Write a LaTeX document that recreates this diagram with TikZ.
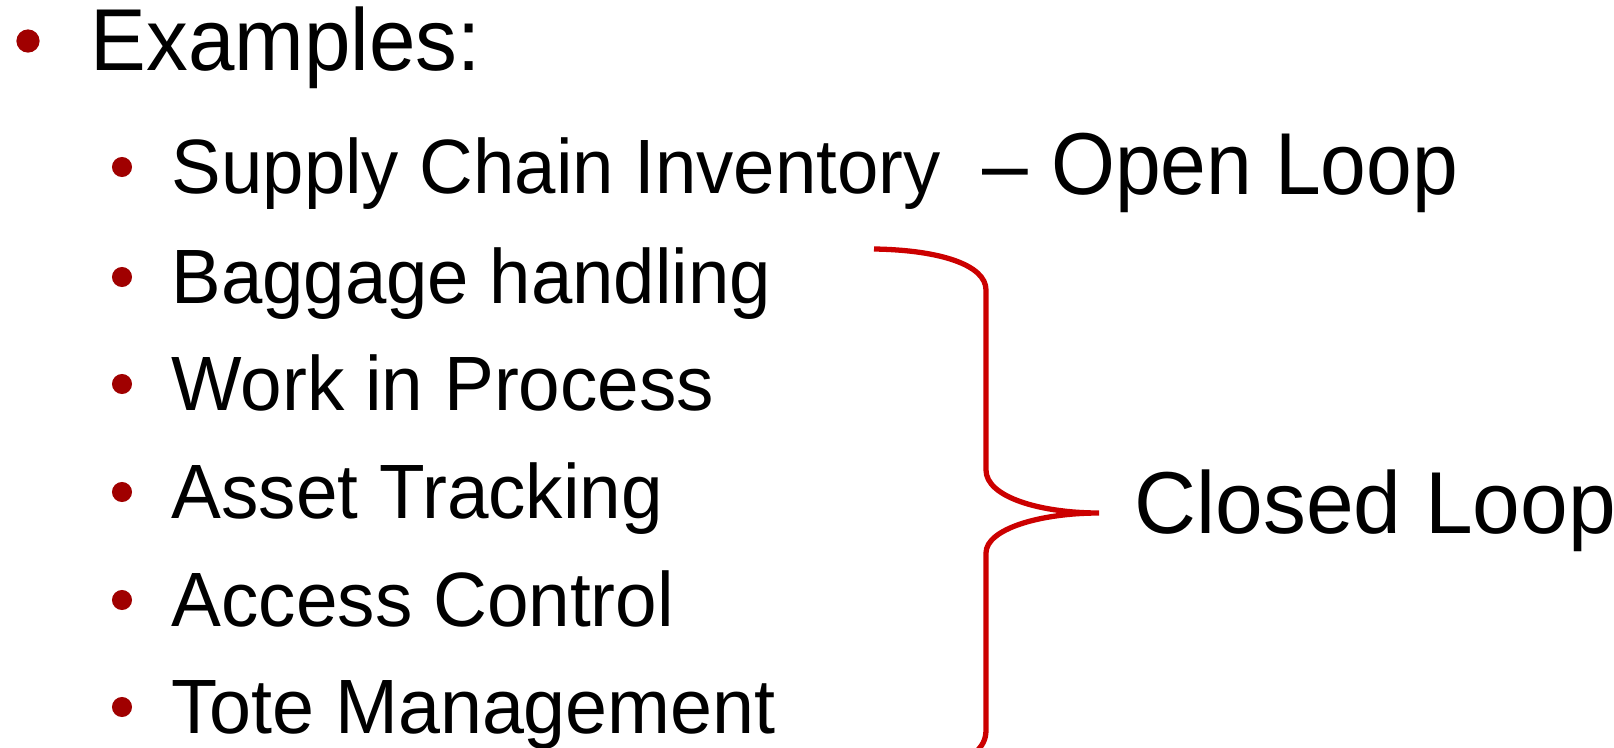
\documentclass[tikz,border=0pt]{standalone}
\usepackage{fontspec}
\setmainfont{Liberation Sans}
\usetikzlibrary{positioning}
\definecolor{bulletred}{HTML}{A00000}
\definecolor{bracered}{HTML}{CC0000}

\begin{document}
\begin{tikzpicture}[x=0.01cm,y=-0.01cm]

  \tikzset{
    bullet/.style={circle,fill=bulletred,inner sep=0pt,minimum size=#1},
    itemtext/.style={anchor=base west,inner sep=0pt,font=\fontsize{21.9pt}{24pt}\selectfont},
    bigtext/.style={anchor=base west,inner sep=0pt,font=\fontsize{25pt}{28pt}\selectfont},
  }
  \useasboundingbox (0,0) rectangle (1614,748);
  %TITLE
  \node[bullet=6.6pt] (b0) at (28,41) {};
  \node[bigtext,xscale=0.95] (ex) at (90,70) {Examples:};
  %ITEMS
  \foreach \txt/\y/\sx [count=\i] in {Supply Chain Inventory/193/0.966,Baggage handling/303/0.965,Work in Process/410/0.97,Asset Tracking/518/0.97,Access Control/626/0.97,Tote Management/733/0.98}{
    \node[bullet=5.7pt] (b\i) at (122,\y-26) {};
    \node[itemtext,xscale=\sx] (it\i) at (171,\y) {\txt};
  }
  %LABELS
  \node[bigtext,xscale=0.935] (open) at (982,194) {– Open Loop};
  \node[bigtext,xscale=0.975] (closed) at (1134,533) {Closed Loop};
  %BRACE
  \coordinate (btop) at (874,249);
  \coordinate (btip) at (1099,513);
  \coordinate (bend) at (976,752);
  \draw[bracered,line width=1.5pt]
    (btop) .. controls (940,250) and (986,265) .. (986,290)
    -- (986,470) .. controls (986,497) and (1040,513) .. (btip)
    .. controls (1040,513) and (986,529) .. (986,553)
    -- (986,730) .. controls (986,740) and (982,746) .. (bend);
\end{tikzpicture}
\end{document}
